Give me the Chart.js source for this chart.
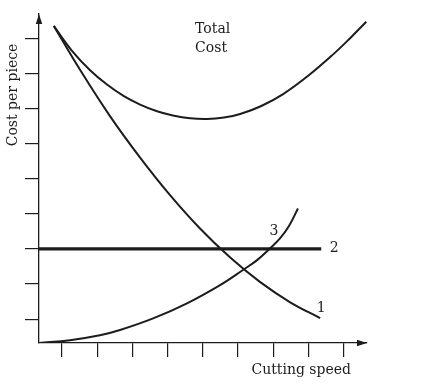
<!DOCTYPE html>
<html>
<head>
<meta charset="utf-8">
<script src="https://cdn.jsdelivr.net/npm/chart.js@4"></script>
<style>
  html, body { margin: 0; padding: 0; background: #fff; }
  #wrap { width: 421px; height: 390px; position: relative; }
</style>
</head>
<body>
<div id="wrap"><canvas id="c" width="421" height="390"></canvas></div>
<script>
// ---- data ----
const xTicks = [1, 2, 3, 4, 5, 6, 7, 8, 9];
const yTicks = [1, 2, 3, 4, 5, 6, 7, 8, 9];

const curve1X = [0.77, 1.51, 2.36, 3.22, 4.07, 4.92, 5.77, 6.62, 7.48, 8.33];
const curve1Y = [9.35, 8.11, 6.79, 5.60, 4.53, 3.58, 2.76, 2.06, 1.48, 1.03];

const curve2X = [0.35, 8.36];
const curve2Y = [3.00, 3.00];

const curve3X = [0.35, 1.23, 2.08, 2.65, 3.59, 4.55, 5.49, 6.14, 6.54, 6.88, 7.19, 7.45, 7.70];
const curve3Y = [0.32, 0.40, 0.54, 0.69, 1.02, 1.45, 1.97, 2.40, 2.68, 2.99, 3.30, 3.66, 4.15];

const totalX = [0.77, 1.28, 1.80, 2.28, 2.76, 3.22, 3.70, 4.15, 4.64, 5.12, 5.60, 6.06, 6.66, 7.28, 7.99, 8.70, 9.18, 9.64];
const totalY = [9.35, 8.65, 8.09, 7.68, 7.35, 7.11, 6.92, 6.80, 6.72, 6.70, 6.74, 6.84, 7.07, 7.41, 7.93, 8.54, 9.00, 9.47];

const labelTexts = ['Total', 'Cost', '1', '2', '3'];
const labelX = [4.78, 4.78, 8.36, 8.73, 7.02];
const labelY = [9.15, 8.62, 1.31, 3.02, 3.51];
const labelAlign = ['left', 'left', 'center', 'center', 'center'];
const labelBase = ['alphabetic', 'alphabetic', 'middle', 'middle', 'middle'];

const xTitle = 'Cutting speed';
const yTitle = 'Cost per piece';

const INK = '#1c1c1c';
const FONT = '14px "DejaVu Serif"';

const pts = (xs, ys) => xs.map((x, i) => ({ x: x, y: ys[i] }));

const decor = {
  id: 'decor',
  afterDraw(chart) {
    const ctx = chart.ctx;
    const a = chart.chartArea;
    const xs = chart.scales.x, ys = chart.scales.y;
    ctx.save();
    ctx.fillStyle = INK;
    // arrow heads
    ctx.beginPath();
    ctx.moveTo(a.left, a.top);
    ctx.lineTo(a.left - 3.2, a.top + 10);
    ctx.lineTo(a.left + 3.2, a.top + 10);
    ctx.closePath();
    ctx.fill();
    ctx.beginPath();
    ctx.moveTo(a.right, a.bottom);
    ctx.lineTo(a.right - 10, a.bottom - 3.2);
    ctx.lineTo(a.right - 10, a.bottom + 3.2);
    ctx.closePath();
    ctx.fill();
    // labels
    ctx.font = FONT;
    labelTexts.forEach((t, i) => {
      ctx.textAlign = labelAlign[i];
      ctx.textBaseline = labelBase[i];
      ctx.fillText(t, xs.getPixelForValue(labelX[i]), ys.getPixelForValue(labelY[i]));
    });
    // axis titles
    ctx.textAlign = 'right';
    ctx.textBaseline = 'alphabetic';
    ctx.fillText(xTitle, a.right - 16, a.bottom + 31);
    ctx.translate(a.left - 22, a.top + 81);
    ctx.rotate(-Math.PI / 2);
    ctx.textAlign = 'center';
    ctx.fillText(yTitle, 0, 0);
    ctx.restore();
  }
};

const lineDs = (data, w) => ({
  data: data,
  borderColor: INK,
  borderWidth: w,
  pointRadius: 0,
  fill: false,
  showLine: true,
  tension: 0.4,
  borderCapStyle: 'butt'
});

new Chart(document.getElementById('c'), {
  type: 'scatter',
  data: {
    datasets: [
      lineDs(pts(totalX, totalY), 2),
      lineDs(pts(curve1X, curve1Y), 2),
      lineDs(pts(curve3X, curve3Y), 2),
      lineDs(pts(curve2X, curve2Y), 3.2)
    ]
  },
  options: {
    responsive: false,
    animation: false,
    events: [],
    layout: { padding: { left: 25, right: 54, top: 14, bottom: 33 } },
    plugins: { legend: { display: false }, tooltip: { enabled: false } },
    scales: {
      x: {
        type: 'linear',
        min: 0.35, max: 9.66,
        afterBuildTicks: s => { s.ticks = xTicks.map(v => ({ value: v })); },
        ticks: { display: false },
        grid: { drawOnChartArea: false, drawTicks: true, tickLength: 14, color: INK, lineWidth: 1.2 },
        border: { display: true, color: INK, width: 1.3 }
      },
      y: {
        type: 'linear',
        min: 0.32, max: 9.69,
        afterBuildTicks: s => { s.ticks = yTicks.map(v => ({ value: v })); },
        ticks: { display: false },
        grid: { drawOnChartArea: false, drawTicks: true, tickLength: 14, color: INK, lineWidth: 1.2 },
        border: { display: true, color: INK, width: 1.3 }
      }
    }
  },
  plugins: [decor]
});
</script>
</body>
</html>
